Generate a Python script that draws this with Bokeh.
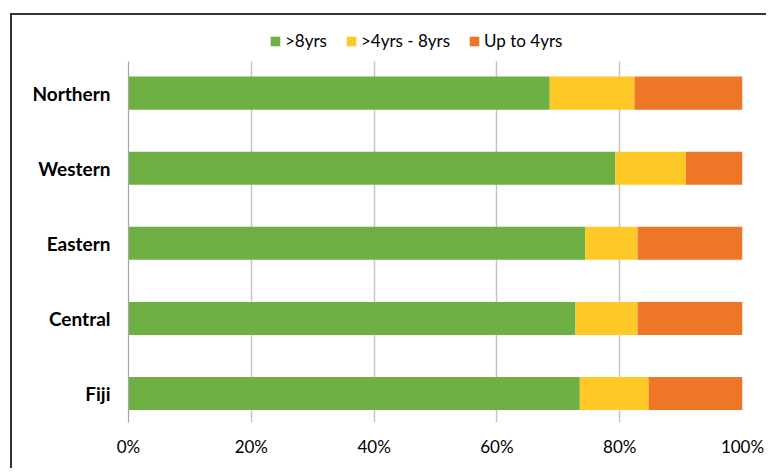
from bokeh.plotting import figure
from bokeh.models import ColumnDataSource, Range1d, FixedTicker
from bokeh.embed import file_html
from bokeh.resources import INLINE

regions = ["Northern", "Western", "Eastern", "Central", "Fiji"]
over_8 = [68.6, 79.3, 74.4, 72.8, 73.5]
mid_4_8 = [13.8, 11.5, 8.5, 10.1, 11.2]
up_to_4 = [17.6, 9.2, 17.1, 17.1, 15.3]
series_labels = [">8yrs", ">4yrs - 8yrs", "Up to 4yrs"]
x_ticks = [0, 20, 40, 60, 80, 100]
x_tick_labels = ["0%", "20%", "40%", "60%", "80%", "100%"]
colors = ["#6FB044", "#FEC826", "#EE7627"]

ypos = list(range(len(regions) - 1, -1, -1))
src = ColumnDataSource(dict(y=ypos, a=over_8, b=mid_4_8, c=up_to_4))

Y_LO, Y_HI, Y_TOP = -0.386, 4.421, 4.834

p = figure(frame_width=614, frame_height=392,
           min_border_left=116, min_border_right=24,
           min_border_top=15, min_border_bottom=46,
           x_range=Range1d(0, 100), y_range=Range1d(Y_LO, Y_TOP),
           output_backend="svg", toolbar_location=None)
p.styles = {"margin-left": "10px", "margin-top": "13px",
            "border-left": "2px solid #333333",
            "border-top": "2px solid #333333"}
p.outline_line_color = None

FONT = "Lato"
grid = p.xgrid[0]
grid.grid_line_color = "#C4C4C4"
grid.grid_line_width = 1.5
p.ygrid.grid_line_color = None
if "cross_bounds" in grid.properties():
    grid.cross_bounds = (Y_LO, Y_HI)
else:
    grid.grid_line_color = None
    p.segment(x0=x_ticks, x1=x_ticks, y0=[Y_LO] * len(x_ticks), y1=[Y_HI] * len(x_ticks),
              line_color="#C4C4C4", line_width=1.5)

p.hbar_stack(["a", "b", "c"], y="y", height=0.44, color=colors,
             line_color=None, source=src, legend_label=series_labels)

# x axis
p.xaxis.ticker = FixedTicker(ticks=x_ticks)
p.xaxis.major_label_overrides = {t: l for t, l in zip(x_ticks, x_tick_labels)}
p.xaxis.axis_line_color = None
p.xaxis.major_tick_line_color = None
p.xaxis.major_tick_out = 0
p.xaxis.major_tick_in = 0
p.xaxis.minor_tick_line_color = None
p.xaxis.major_label_standoff = 13
p.xaxis.major_label_text_font = FONT
p.xaxis.major_label_text_font_size = "17px"
p.xaxis.major_label_text_color = "#000000"

# y axis
p.yaxis.ticker = FixedTicker(ticks=ypos)
p.yaxis.bounds = (Y_LO, Y_HI)
p.yaxis.major_label_overrides = {y: r for y, r in zip(ypos, regions)}
p.yaxis.axis_line_color = "#A6A6A6"
p.yaxis.axis_line_width = 1.2
p.yaxis.major_tick_line_color = None
p.yaxis.major_tick_out = 0
p.yaxis.major_tick_in = 0
p.yaxis.minor_tick_line_color = None
p.yaxis.major_label_standoff = 18
p.yaxis.major_label_text_font = FONT
p.yaxis.major_label_text_font_style = "bold"
p.yaxis.major_label_text_font_size = "19px"
p.yaxis.major_label_text_color = "#000000"

lg = p.legend[0]
lg.orientation = "horizontal"
lg.location = (141, 371)
lg.padding = 0
lg.margin = 0
lg.spacing = 18
lg.glyph_width = 12
lg.glyph_height = 12
lg.label_standoff = 4
lg.label_height = 16
lg.border_line_color = None
lg.background_fill_alpha = 0
lg.label_text_font = FONT
lg.label_text_font_size = "17px"
lg.label_text_color = "#000000"

open("out.html", "w").write(file_html(p, INLINE))
